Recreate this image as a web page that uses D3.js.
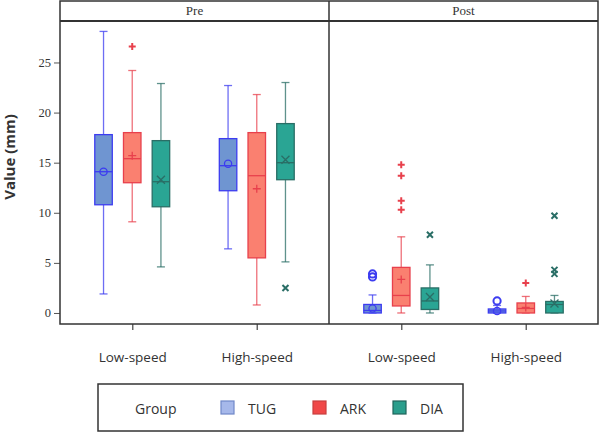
<!DOCTYPE html>
<html>
<head>
<meta charset="utf-8">
<script src="https://d3js.org/d3.v7.min.js"></script>
<style>
  body { margin: 0; background: #fff; }
  svg text { fill: #333; }
</style>
</head>
<body>
<div id="chart"></div>
<script>
// categories
const phases = ["Pre", "Post"];
const speeds = ["Low-speed", "High-speed"];
const groups = ["TUG", "ARK", "DIA"];
const yTicks = [0, 5, 10, 15, 20, 25];

// one entry per box, order: phase > speed > group
const whiskerLow  = [1.9, 9.1, 4.6, 6.4, 0.8, 5.1, 0, 0, 0, 0, 0, 0];
const q1          = [10.8, 13.0, 10.6, 12.2, 5.5, 13.3, 0, 0.7, 0.35, 0, 0, 0];
const median      = [14.1, 15.4, 13.1, 14.7, 13.7, 15.0, 0.25, 1.75, 1.2, 0.2, 0.45, 0.85];
const q3          = [17.8, 18.0, 17.2, 17.4, 18.0, 18.9, 0.85, 4.55, 2.5, 0.4, 1.0, 1.15];
const whiskerHigh = [28.1, 24.2, 22.9, 22.7, 21.8, 23.0, 1.8, 7.6, 4.8, 0.75, 1.65, 1.75];
const means       = [14.1, 15.7, 13.3, 14.9, 12.4, 15.3, 0.45, 3.35, 1.6, 0.2, 0.55, 0.95];
const outliers    = [[], [26.6], [], [], [], [2.5],
                     [3.6, 3.9], [10.3, 11.2, 13.7, 14.8], [7.8], [1.2], [3.0], [3.9, 4.3, 9.7]];

const fills   = {TUG: "#6f95d1", ARK: "#fa8070", DIA: "#2aa594"};
const strokes = {TUG: "#3c3cf0", ARK: "#e8404c", DIA: "#2a6e66"};
const legendFill   = {TUG: "#a6b8ea", ARK: "#f04848", DIA: "#2a9e8c"};
const legendStroke = {TUG: "#7088c8", ARK: "#c84040", DIA: "#20645a"};

const W = 600, H = 434;
const plotL = 60, plotR = 598, plotT = 21, plotB = 324, headT = 1;

const svg = d3.select("#chart").append("svg")
  .attr("width", W).attr("height", H);

const y = d3.scaleLinear().domain([-1.1, 29.14]).range([plotB, plotT]);
const phaseX = d3.scaleBand().domain(phases).range([plotL, plotR]);
const speedX = d3.scalePoint().domain(speeds).range([0, phaseX.bandwidth()]).padding(0.58);
const groupX = d3.scalePoint().domain(groups).range([-28.7, 28.7]);
const boxW = 17.5, capW = 8;

// build box records
const boxes = [];
phases.forEach((p, pi) => speeds.forEach((s, si) => groups.forEach((g, gi) => {
  const i = pi * 6 + si * 3 + gi;
  boxes.push({phase: p, speed: s, group: g,
    lo: whiskerLow[i], q1: q1[i], med: median[i], q3: q3[i], hi: whiskerHigh[i],
    mean: means[i], out: outliers[i]});
})));

// y axis
const yAxis = svg.append("g").attr("transform", `translate(${plotL},0)`)
  .call(d3.axisLeft(y).tickValues(yTicks).tickSize(6).tickPadding(3));
yAxis.select(".domain").remove();
yAxis.selectAll("line").attr("stroke", "#555");
yAxis.selectAll("text").style("font-family", "'Liberation Serif', serif").style("font-size", "12.5px").attr("fill", "#333");

svg.append("text")
  .attr("transform", `translate(15,157) rotate(-90)`)
  .attr("text-anchor", "middle")
  .style("font-family", "'Open Sans', sans-serif").style("font-weight", "bold").style("font-size", "15px")
  .attr("fill", "#222")
  .text("Value (mm)");

// panels
phases.forEach(p => {
  const g = svg.append("g").attr("transform", `translate(${phaseX(p)},0)`);
  const xa = g.append("g").attr("transform", `translate(0,${plotB})`)
    .call(d3.axisBottom(speedX).tickSize(6).tickPadding(22));
  xa.select(".domain").remove();
  xa.selectAll("line").attr("stroke", "#666").attr("stroke-width", 1.5);
  xa.selectAll("text").style("font-family", "'Open Sans', sans-serif").style("font-size", "13.5px").attr("fill", "#222");

  g.append("text").attr("x", phaseX.bandwidth() / 2).attr("y", 15)
    .attr("text-anchor", "middle")
    .style("font-family", "'Liberation Serif', serif").style("font-size", "13px")
    .attr("fill", "#222")
    .text(p);
});

// boxes
const bx = d => phaseX(d.phase) + speedX(d.speed) + groupX(d.group);
const bg = svg.append("g").selectAll("g").data(boxes).join("g");

bg.append("line").attr("x1", bx).attr("x2", bx)
  .attr("y1", d => y(d.hi)).attr("y2", d => y(d.lo))
  .attr("stroke", d => strokes[d.group]).attr("stroke-opacity", 0.75).attr("stroke-width", 1.3);
bg.selectAll(".cap").data(d => [[d, d.hi], [d, d.lo]]).join("line")
  .attr("x1", e => bx(e[0]) - capW / 2).attr("x2", e => bx(e[0]) + capW / 2)
  .attr("y1", e => y(e[1])).attr("y2", e => y(e[1]))
  .attr("stroke", e => strokes[e[0].group]).attr("stroke-opacity", 0.75).attr("stroke-width", 1.3);
bg.append("rect")
  .attr("x", d => bx(d) - boxW / 2).attr("width", boxW)
  .attr("y", d => y(d.q3)).attr("height", d => Math.max(1, y(d.q1) - y(d.q3)))
  .attr("fill", d => fills[d.group])
  .attr("stroke", d => strokes[d.group]).attr("stroke-width", 1.3);
bg.append("line")
  .attr("x1", d => bx(d) - boxW / 2).attr("x2", d => bx(d) + boxW / 2)
  .attr("y1", d => y(d.med)).attr("y2", d => y(d.med))
  .attr("stroke", d => strokes[d.group]).attr("stroke-width", 1.3);

function marker(sel, group, cx, cy, bold) {
  const c = strokes[group];
  const sw = bold ? 2 : 1.3;
  if (group === "TUG") {
    sel.append("circle").attr("cx", cx).attr("cy", cy).attr("r", 3.6)
      .attr("fill", "none").attr("stroke", c).attr("stroke-width", sw);
  } else if (group === "ARK") {
    const s = bold ? 3.5 : 4;
    sel.append("path").attr("d", `M${cx - s},${cy}H${cx + s}M${cx},${cy - s}V${cy + s}`)
      .attr("stroke", c).attr("stroke-width", sw);
  } else {
    const s = bold ? 3 : 4;
    sel.append("path").attr("d", `M${cx - s},${cy - s}L${cx + s},${cy + s}M${cx - s},${cy + s}L${cx + s},${cy - s}`)
      .attr("stroke", c).attr("stroke-width", sw);
  }
}
bg.each(function (d) {
  const sel = d3.select(this);
  marker(sel, d.group, bx(d), y(d.mean), false);
  d.out.forEach(v => marker(sel, d.group, bx(d), y(v), true));
});

// frame
const frame = svg.append("g").attr("fill", "none").attr("stroke", "#333").attr("stroke-width", 1.5);
frame.append("rect").attr("x", plotL).attr("y", headT).attr("width", plotR - plotL).attr("height", plotB - headT);
frame.append("line").attr("x1", plotL).attr("x2", plotR).attr("y1", plotT).attr("y2", plotT).attr("stroke-width", 2);
frame.append("line").attr("x1", phaseX("Post")).attr("x2", phaseX("Post")).attr("y1", headT).attr("y2", plotB);

// legend
const lg = svg.append("g");
lg.append("rect").attr("x", 98).attr("y", 384).attr("width", 365).attr("height", 47)
  .attr("fill", "none").attr("stroke", "#333").attr("stroke-width", 1.5);
lg.append("text").attr("x", 135).attr("y", 414)
  .style("font-family", "'Open Sans', sans-serif").style("font-size", "14px").text("Group");
const legX = d3.scaleOrdinal().domain(groups).range([221, 313, 393]);
groups.forEach(g => {
  lg.append("rect").attr("x", legX(g)).attr("y", 401).attr("width", 13).attr("height", 13)
    .attr("fill", legendFill[g]).attr("stroke", legendStroke[g]).attr("stroke-width", 1.2);
  lg.append("text").attr("x", legX(g) + 27).attr("y", 414)
    .style("font-family", "'Open Sans', sans-serif").style("font-size", "14px").text(g);
});
</script>
</body>
</html>
